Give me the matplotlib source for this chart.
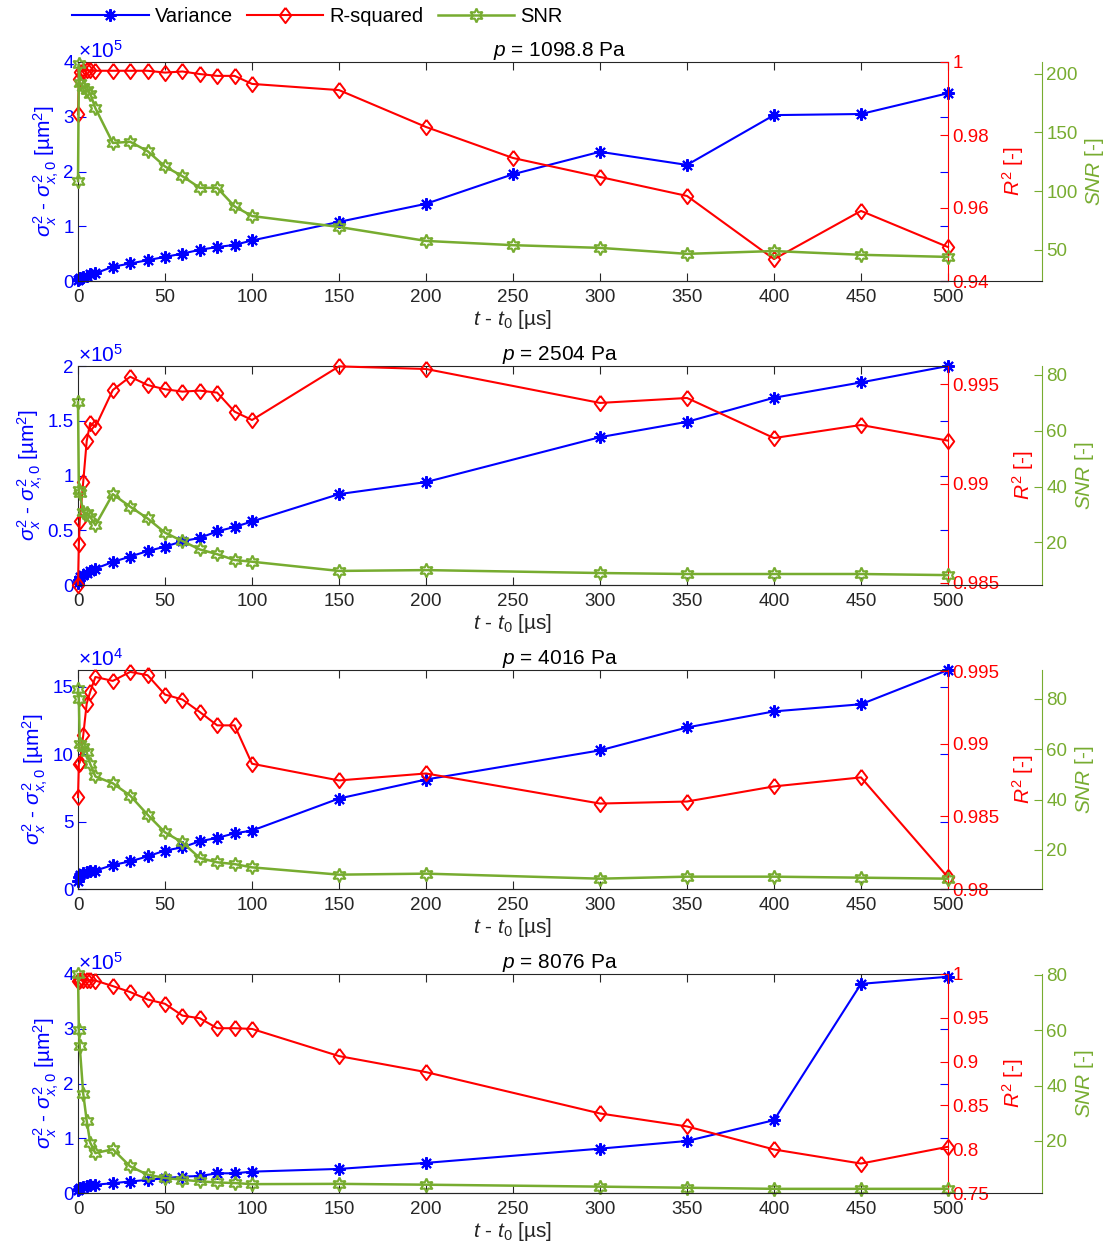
import numpy as np
import matplotlib
matplotlib.use('Agg')
import matplotlib.pyplot as plt
from matplotlib.ticker import FuncFormatter

plt.rcParams['font.family'] = 'Liberation Sans'
plt.rcParams['mathtext.fontset'] = 'custom'
plt.rcParams['mathtext.rm'] = 'Liberation Sans'
plt.rcParams['mathtext.it'] = 'Liberation Sans:italic'
plt.rcParams['font.size'] = 13.5

# time axis [us]
t_p1 = [0, 0.5, 1, 3, 5, 7, 10, 20, 30, 40, 50, 60, 70, 80, 90, 100, 150, 200, 250, 300, 350, 400, 450, 500]
t_rest = [0, 0.5, 1, 3, 5, 7, 10, 20, 30, 40, 50, 60, 70, 80, 90, 100, 150, 200, 300, 350, 400, 450, 500]

pressures = ['1098.8', '2504', '4016', '8076']

# variance (in units of 10^var_scale), R^2, SNR per pressure
var_p1 = [0.02, 0.04, 0.05, 0.08, 0.10, 0.12, 0.14, 0.26, 0.32, 0.38, 0.44, 0.50, 0.57, 0.62, 0.66, 0.74,
          1.08, 1.41, 1.95, 2.36, 2.12, 3.03, 3.05, 3.43]
r2_p1 = [0.9857, 0.9953, 0.9972, 0.9976, 0.9977, 0.9977, 0.9976, 0.9976, 0.9976, 0.9976, 0.9971, 0.9974,
         0.9967, 0.9962, 0.9962, 0.9940, 0.9923, 0.9822, 0.9737, 0.9685, 0.9633, 0.9460, 0.9592, 0.9493]
snr_p1 = [108.5, 208, 192, 189, 186, 183, 170.6, 141, 142, 134, 121, 112.7, 102.8, 102.8, 87, 78.8,
          69.5, 57.6, 54, 51.7, 46.6, 49, 45.8, 44]

var_p2 = [0.02, 0.05, 0.07, 0.09, 0.11, 0.13, 0.15, 0.21, 0.26, 0.31, 0.35, 0.40, 0.43, 0.49, 0.53, 0.58,
          0.83, 0.94, 1.35, 1.49, 1.71, 1.85, 2.0]
r2_p2 = [0.9849, 0.98696, 0.98811, 0.99008, 0.99214, 0.99305, 0.99285, 0.99471, 0.99538, 0.99496, 0.99475,
         0.99463, 0.99468, 0.99458, 0.99362, 0.9932, 0.9959, 0.99577, 0.99406, 0.99431, 0.99229, 0.99295, 0.99216]
snr_p2 = [70.3, 38.8, 37.6, 31, 30.4, 29.2, 26.2, 37.3, 32.8, 28.6, 23.5, 20.5, 17.5, 15.8, 13.7, 13.1,
          9.8, 10.1, 9.05, 8.7, 8.7, 8.7, 8.3]

var_p3 = [0.62, 0.86, 1.06, 1.16, 1.23, 1.30, 1.36, 1.78, 2.05, 2.42, 2.85, 3.09, 3.54, 3.79, 4.13, 4.33,
          6.71, 8.12, 10.28, 11.98, 13.17, 13.7, 16.24]
r2_p3 = [0.98632, 0.98862, 0.9887, 0.99057, 0.99276, 0.99356, 0.99459, 0.99432, 0.99494, 0.99471, 0.99338,
         0.99304, 0.99218, 0.99126, 0.99126, 0.98862, 0.98747, 0.98795, 0.98588, 0.98602, 0.98706, 0.98768, 0.9808]
snr_p3 = [84, 80, 62.2, 60.8, 58.8, 54.2, 49.2, 46.5, 41.6, 34, 27, 23, 16.8, 15.1, 14.4, 13.1,
          10.2, 10.6, 8.6, 9.4, 9.4, 9, 8.6]

var_p4 = [0.06, 0.08, 0.09, 0.11, 0.13, 0.14, 0.15, 0.18, 0.21, 0.24, 0.27, 0.30, 0.31, 0.36, 0.36, 0.39,
          0.44, 0.55, 0.81, 0.95, 1.33, 3.82, 3.95]
r2_p4 = [0.9915, 0.9925, 0.9930, 0.9932, 0.9930, 0.9928, 0.9925, 0.9862, 0.9794, 0.9709, 0.966, 0.9525,
         0.9495, 0.9381, 0.9381, 0.9373, 0.9063, 0.888, 0.8408, 0.826, 0.7997, 0.7836, 0.8028]
snr_p4 = [80.2, 60.2, 54.1, 37.1, 27.3, 19.4, 15.6, 17, 10.8, 7.8, 6.6, 6, 5.4, 5, 4.8, 4.4,
          4.5, 4.2, 3.5, 3.1, 2.7, 2.7, 2.7]

var_scale = [5, 5, 4, 5]
var_ylim = [(0, 4), (0, 2), (0, 16.24), (0, 4)]
var_ticks = [[0, 1, 2, 3, 4], [0, 0.5, 1, 1.5, 2], [0, 5, 10, 15], [0, 1, 2, 3, 4]]
r2_ylim = [(0.94, 1.0), (0.98489, 0.99592), (0.98, 0.99507), (0.75, 1.0)]
r2_ticks = [[0.94, 0.96, 0.98, 1.0], [0.985, 0.99, 0.995], [0.98, 0.985, 0.99, 0.995],
            [0.75, 0.8, 0.85, 0.9, 0.95, 1.0]]
snr_ylim = [(23.5, 209.9), (4.76, 83.2), (4.5, 91.5), (1.2, 80.25)]
snr_ticks = [[50, 100, 150, 200], [20, 40, 60, 80], [20, 40, 60, 80], [20, 40, 60, 80]]

times = [t_p1, t_rest, t_rest, t_rest]
variances = [var_p1, var_p2, var_p3, var_p4]
r2s = [r2_p1, r2_p2, r2_p3, r2_p4]
snrs = [snr_p1, snr_p2, snr_p3, snr_p4]

blue = '#0000FF'
red = '#FF0000'
green = '#77AC30'
dark = '#262626'
diamond = [(0, 1), (0.75, 0), (0, -1), (-0.75, 0), (0, 1)]

W_px, H_px = 1110, 1256
L = 78 / W_px
W = 870 / W_px
WG = 964 / W_px
H = 219 / H_px
bottoms_px = [281, 585, 889, 1193]

fig = plt.figure(figsize=(W_px / 100, H_px / 100), dpi=100)
gfmt = FuncFormatter(lambda v, p: '%g' % round(v, 4))
tick_fs = 13.5
lab_fs = 15

handles = None
for i in range(4):
    b = 1 - bottoms_px[i] / H_px
    ax = fig.add_axes([L, b, W, H])
    axr = ax.twinx()
    axg = fig.add_axes([L, b, WG, H])
    axg.patch.set_visible(False)

    t = np.array(times[i])
    h1, = ax.plot(t, np.array(variances[i]), color=blue, lw=1.5, marker=(8, 2, 0), ms=9, mew=1.5,
                  clip_on=False, label='Variance')
    h2, = axr.plot(t, r2s[i], color=red, lw=1.5, marker=diamond, ms=11, mfc='none', mew=1.4,
                   clip_on=False, label='R-squared')
    h3, = axg.plot(t, snrs[i], color=green, lw=1.8, marker=(6, 1, 0), ms=10, mfc='none', mew=1.5,
                   clip_on=False, label='SNR')
    if handles is None:
        handles = [h1, h2, h3]

    # main axis
    ax.set_xlim(0, 500)
    ax.set_xticks(np.arange(0, 501, 50))
    ax.set_ylim(*var_ylim[i])
    ax.set_yticks(var_ticks[i])
    ax.yaxis.set_major_formatter(gfmt)
    ax.tick_params(axis='x', direction='in', top=True, length=6, colors=dark, labelsize=tick_fs, pad=6)
    ax.tick_params(axis='y', direction='in', right=True, length=6, colors=blue, labelsize=tick_fs, pad=3)
    for s in ['left', 'top', 'bottom']:
        ax.spines[s].set_color(dark)
    ax.spines['right'].set_visible(False)
    ax.text(0.0, 1.0, r'$\times10^{%d}$' % var_scale[i], transform=ax.transAxes,
            ha='left', va='bottom', color=blue, fontsize=15)
    ax.set_ylabel(r'$\sigma^2_x$ - $\sigma^2_{x,0}$ [µm$^2$]', color=blue, fontsize=lab_fs, labelpad=2)
    ax.set_xlabel(r'$t$ - $t_0$ [µs]', color=dark, fontsize=lab_fs, labelpad=1)

    # R^2 axis
    axr.set_ylim(*r2_ylim[i])
    axr.set_yticks(r2_ticks[i])
    axr.yaxis.set_major_formatter(gfmt)
    axr.tick_params(axis='y', direction='in', length=6, colors=red, labelsize=tick_fs, pad=3)
    for s in ['left', 'top', 'bottom']:
        axr.spines[s].set_visible(False)
    axr.spines['right'].set_color(red)
    axr.set_ylabel(r'$R^2$ [-]', color=red, fontsize=lab_fs, labelpad=8)

    # SNR axis
    axg.set_xlim(0, 500 * WG / W)
    axg.set_xticks([])
    axg.set_ylim(*snr_ylim[i])
    axg.set_yticks(snr_ticks[i])
    axg.yaxis.set_major_formatter(gfmt)
    axg.yaxis.tick_right()
    axg.yaxis.set_label_position('right')
    axg.tick_params(axis='y', direction='in', length=6, colors=green, labelsize=tick_fs, pad=3)
    axg.spines['left'].set_visible(False)
    axg.spines['top'].set_visible(False)
    axg.spines['right'].set_color(green)
    axg.spines['bottom'].set_color(dark)
    axg.set_ylabel(r'$SNR$ [-]', color=green, fontsize=lab_fs, labelpad=4)
    axg.set_title(r'$p$ = %s Pa' % pressures[i], fontsize=15, pad=2, color='black')

fig.legend(handles, ['Variance', 'R-squared', 'SNR'], loc='center left',
           bbox_to_anchor=(72 / W_px, 1 - 17 / H_px), ncol=3, frameon=False,
           handlelength=3.8, handletextpad=0.3, columnspacing=0.7, borderaxespad=0,
           borderpad=0, fontsize=14.5)

plt.savefig('out.png', dpi=100)
plt.close()
